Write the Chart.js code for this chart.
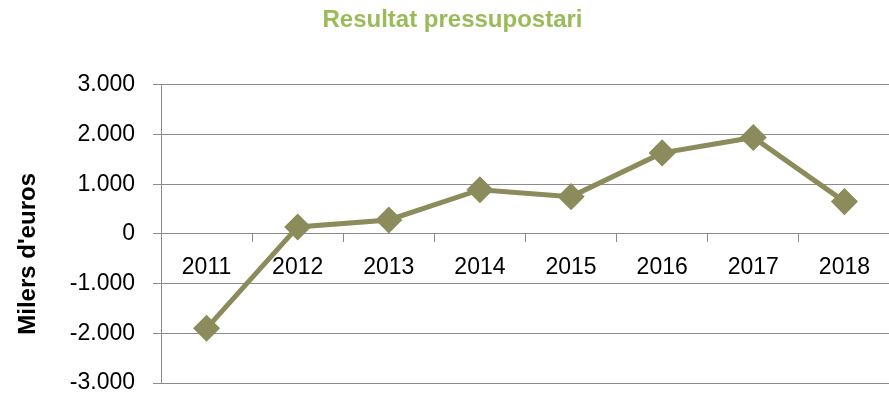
<!DOCTYPE html>
<html>
<head>
<meta charset="utf-8">
<script src="https://cdn.jsdelivr.net/npm/chart.js@4/dist/chart.umd.min.js"></script>
<style>
  html, body { margin: 0; padding: 0; background: #fff; overflow: hidden; }
  #wrap { width: 905px; height: 398px; }
</style>
</head>
<body>
<div id="wrap"><canvas id="chart_result"></canvas></div>
<script>
//Data
const years = ["2011", "2012", "2013", "2014", "2015", "2016", "2017", "2018"];
const resultValues = [-1900, 140, 280, 890, 750, 1630, 1940, 650];
const yTicks = [-3000, -2000, -1000, 0, 1000, 2000, 3000];

const lineColor = '#8b8b5c';
const gridColor = '#8c8c8c';
const fontFamily = '"Liberation Sans", Arial, sans-serif';

//Thousands with dot separator, e.g. -1.000
function formatThousands(v){
    var s = Math.abs(v).toString().replace(/\B(?=(\d{3})+(?!\d))/g, ".");
    return (v < 0 ? "-" : "") + s;
}

const data = {
    labels: years,
    datasets: [
        {
            data: resultValues,
            borderColor: lineColor,
            backgroundColor: lineColor,
            borderWidth: 5,
            pointStyle: 'rectRot',
            pointRadius: 10,
            pointBackgroundColor: lineColor,
            pointBorderColor: lineColor,
            tension: 0,
        },
    ]
};

const config = {
    type: 'line',
    data: data,
    options: {
        responsive: true,
        maintainAspectRatio: false,
        animation: false,
        layout: {
            padding: { left: 0, right: 0, top: 0, bottom: 12 }
        },
        scales: {
            x: {
                position: { y: 0 },
                offset: true,
                grid: {
                    offset: true,
                    drawOnChartArea: false,
                    drawTicks: true,
                    tickLength: 8,
                    color: gridColor,
                },
                border: { color: gridColor, width: 1 },
                ticks: {
                    color: '#000',
                    padding: 12,
                    maxRotation: 0,
                    font: { family: fontFamily, size: 23 }
                }
            },
            y: {
                min: -3000,
                max: 3000,
                afterBuildTicks: function(scale){
                    scale.ticks = yTicks.map(function(v){ return { value: v }; });
                },
                afterFit: function(scale){
                    // fixed axis width, and don't let the label gap eat vertical space
                    scale.width = 161;
                    scale.paddingTop = 12;
                    scale.paddingBottom = 12;
                },
                grid: {
                    color: gridColor,
                    lineWidth: 1,
                    tickLength: 8,
                },
                border: { color: gridColor, width: 1 },
                ticks: {
                    color: '#000',
                    padding: 18,
                    font: { family: fontFamily, size: 23, lineHeight: 1 },
                    callback: function(value){ return formatThousands(value); }
                },
                title: {
                    display: true,
                    text: "Milers d'euros      ",
                    color: '#000',
                    padding: { top: 14, bottom: 0 },
                    font: { family: fontFamily, size: 24, weight: 'bold' }
                }
            }
        },
        plugins: {
            title: {
                display: true,
                text: 'Resultat pressupostari',
                color: '#9bbb59',
                padding: { top: 6, bottom: 50 },
                font: { family: fontFamily, size: 24, weight: 'bold' }
            },
            legend: {
                display: false
            },
            tooltip: { enabled: false }
        }
    }
};

var grapharea = document.getElementById("chart_result").getContext("2d");
var resultChart = new Chart(grapharea, config);
</script>
</body>
</html>
